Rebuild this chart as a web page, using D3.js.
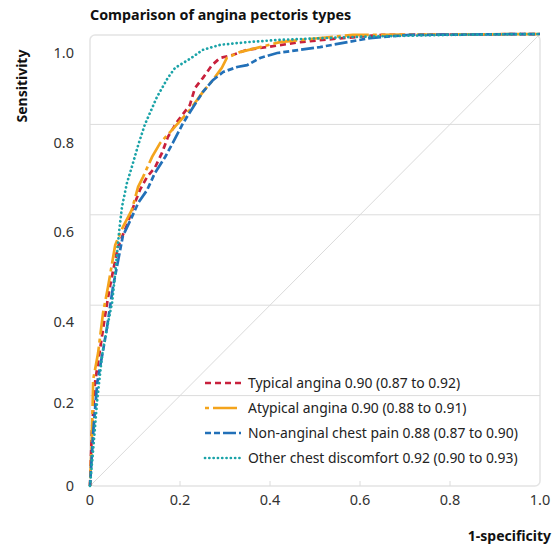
<!DOCTYPE html>
<html>
<head>
<meta charset="utf-8">
<script src="https://cdn.jsdelivr.net/npm/d3@7"></script>
<style>
  body { margin: 0; background: #fff; }
  text { font-family: "Noto Sans", sans-serif; }
</style>
</head>
<body>
<div id="chart"></div>
<script>
// ROC curves: [1-specificity, sensitivity]
var typical = [[0,0],[0.002,0.06],[0.004,0.117],[0.011,0.228],[0.022,0.30],[0.033,0.374],[0.044,0.44],[0.062,0.529],[0.082,0.577],[0.096,0.617],[0.111,0.655],[0.127,0.684],[0.144,0.704],[0.16,0.737],[0.173,0.772],[0.193,0.805],[0.222,0.843],[0.233,0.88],[0.251,0.903],[0.271,0.931],[0.289,0.947],[0.318,0.954],[0.349,0.965],[0.393,0.971],[0.467,0.982],[0.55,0.99],[0.65,0.998],[1,1]];
var atypical = [[0,0],[0.002,0.05],[0.004,0.095],[0.007,0.235],[0.018,0.294],[0.029,0.383],[0.04,0.44],[0.056,0.533],[0.073,0.573],[0.093,0.611],[0.107,0.662],[0.118,0.684],[0.138,0.728],[0.156,0.759],[0.178,0.783],[0.222,0.832],[0.251,0.872],[0.273,0.898],[0.293,0.925],[0.304,0.947],[0.333,0.96],[0.378,0.971],[0.422,0.982],[0.5,0.99],[0.584,0.998],[1,1]];
var nonAnginal = [[0,0],[0.003,0.05],[0.007,0.117],[0.016,0.228],[0.029,0.30],[0.038,0.352],[0.051,0.44],[0.073,0.553],[0.093,0.595],[0.107,0.626],[0.127,0.655],[0.144,0.692],[0.167,0.728],[0.184,0.759],[0.207,0.803],[0.222,0.827],[0.251,0.872],[0.273,0.898],[0.296,0.916],[0.327,0.927],[0.349,0.931],[0.378,0.947],[0.416,0.958],[0.511,0.971],[0.622,0.991],[0.71,0.998],[1,1]];
var otherDiscomfort = [[0,0],[0.007,0.08],[0.016,0.19],[0.027,0.29],[0.038,0.35],[0.049,0.405],[0.056,0.47],[0.065,0.566],[0.071,0.617],[0.082,0.67],[0.093,0.706],[0.107,0.754],[0.122,0.80],[0.149,0.861],[0.173,0.903],[0.189,0.925],[0.222,0.945],[0.251,0.965],[0.289,0.976],[0.35,0.982],[0.42,0.987],[0.6,0.994],[0.8,0.998],[1,1]];

var seriesNames = ["Typical angina 0.90 (0.87 to 0.92)",
                   "Atypical angina 0.90 (0.88 to 0.91)",
                   "Non-anginal chest pain 0.88 (0.87 to 0.90)",
                   "Other chest discomfort 0.92 (0.90 to 0.93)"];
var xTicks = [0, 0.2, 0.4, 0.6, 0.8, 1.0];
var yTicks = [0, 0.2, 0.4, 0.6, 0.8, 1.0];

var series = [
  {name: seriesNames[0], values: typical,         color: "#c8203c", dash: "6,4",                 cap: "butt"},
  {name: seriesNames[1], values: atypical,        color: "#f4a41c", dash: "4,4,24,4",            cap: "butt"},
  {name: seriesNames[2], values: nonAnginal,      color: "#2270b8", dash: "6,3,6,3,13,3",        cap: "butt"},
  {name: seriesNames[3], values: otherDiscomfort, color: "#1aa3a8", dash: "0.1,4.2",             cap: "round"}
];

var W = 556, H = 546;
var margin = {top: 34, left: 90};

var svg = d3.select("#chart")
  .append("svg")
    .attr("width", W)
    .attr("height", H);

var g = svg.append("g")
    .attr("transform", "translate(" + margin.left + "," + margin.top + ")");

var x = d3.scaleLinear().domain([0, 1]).range([0, 450]);
var y = d3.scaleLinear().domain([0, 1]).range([452, 0]);
// tick labels sit a little below their gridlines in the original
var yLab = d3.scaleLinear().domain([0, 0.2, 0.4, 1]).range([452, 369, 288, 19]);

// frame
g.append("rect")
  .attr("x", x(0)).attr("y", y(1) + 1)
  .attr("width", x(1) - x(0)).attr("height", y(0) - y(1) - 1)
  .attr("rx", 5).attr("ry", 5)
  .attr("fill", "none")
  .attr("stroke", "#e4e4e4")
  .attr("stroke-width", 1.5);

// horizontal gridlines
g.selectAll("line.grid")
  .data(yTicks.filter(function(d){ return d > 0 && d < 1; }))
  .enter().append("line")
    .attr("class", "grid")
    .attr("x1", x(0)).attr("x2", x(1))
    .attr("y1", function(d){ return y(d); })
    .attr("y2", function(d){ return y(d); })
    .attr("stroke", "#dcdcdc")
    .attr("stroke-width", 1);

// small ticks on the bottom edge
g.selectAll("line.xtick")
  .data(xTicks.filter(function(d){ return d > 0 && d < 1; }))
  .enter().append("line")
    .attr("class", "xtick")
    .attr("x1", function(d){ return x(d); })
    .attr("x2", function(d){ return x(d); })
    .attr("y1", y(0)).attr("y2", y(0) - 5)
    .attr("stroke", "#dcdcdc");

// reference diagonal
g.append("line")
  .attr("x1", x(0)).attr("y1", y(0))
  .attr("x2", x(1)).attr("y2", y(1))
  .attr("stroke", "#dadada")
  .attr("stroke-width", 1);

// tick labels
g.selectAll("text.xlab")
  .data(xTicks)
  .enter().append("text")
    .attr("class", "xlab")
    .attr("x", function(d){ return x(d); })
    .attr("y", y(0) + 19)
    .attr("text-anchor", "middle")
    .style("font-size", "14.5px")
    .attr("fill", "#333")
    .text(function(d){ return d === 0 ? "0" : d3.format(".1f")(d); });

g.selectAll("text.ylab")
  .data(yTicks)
  .enter().append("text")
    .attr("class", "ylab")
    .attr("x", -16)
    .attr("y", function(d){ return yLab(d); })
    .attr("dy", "0.35em")
    .attr("text-anchor", "end")
    .style("font-size", "14.5px")
    .attr("fill", "#333")
    .text(function(d){ return d === 0 ? "0" : d3.format(".1f")(d); });

// curves
var line = d3.line()
  .x(function(d){ return x(d[0]); })
  .y(function(d){ return y(d[1]); });

g.selectAll("path.roc")
  .data(series)
  .enter().append("path")
    .attr("class", "roc")
    .attr("d", function(d){ return line(d.values); })
    .attr("fill", "none")
    .attr("stroke", function(d){ return d.color; })
    .attr("stroke-width", 2.7)
    .attr("stroke-dasharray", function(d){ return d.dash; })
    .attr("stroke-linecap", function(d){ return d.cap; });

// legend
var legend = g.selectAll("g.legend")
  .data(series)
  .enter().append("g")
    .attr("class", "legend")
    .attr("transform", function(d, i){ return "translate(115," + (349 + i * 25) + ")"; });

legend.append("line")
  .attr("x1", 0).attr("x2", 36)
  .attr("y1", 0).attr("y2", 0)
  .attr("stroke", function(d){ return d.color; })
  .attr("stroke-width", 2.7)
  .attr("stroke-dasharray", function(d){ return d.dash; })
  .attr("stroke-linecap", function(d){ return d.cap; });

legend.append("text")
  .attr("x", 43)
  .attr("y", 0)
  .attr("dy", "0.35em")
  .style("font-size", "13.9px")
  .attr("fill", "#222")
  .text(function(d){ return d.name; });

// titles
svg.append("text")
  .attr("x", 90).attr("y", 20)
  .style("font-size", "14.3px")
  .style("font-weight", "bold")
  .attr("fill", "#111")
  .text("Comparison of angina pectoris types");

svg.append("text")
  .attr("transform", "translate(27,86)rotate(-90)")
  .attr("text-anchor", "middle")
  .style("font-size", "14px")
  .style("font-weight", "bold")
  .attr("fill", "#111")
  .text("Sensitivity");

svg.append("text")
  .attr("x", 551).attr("y", 541)
  .attr("text-anchor", "end")
  .style("font-size", "14px")
  .style("font-weight", "bold")
  .attr("fill", "#111")
  .text("1-specificity");
</script>
</body>
</html>
